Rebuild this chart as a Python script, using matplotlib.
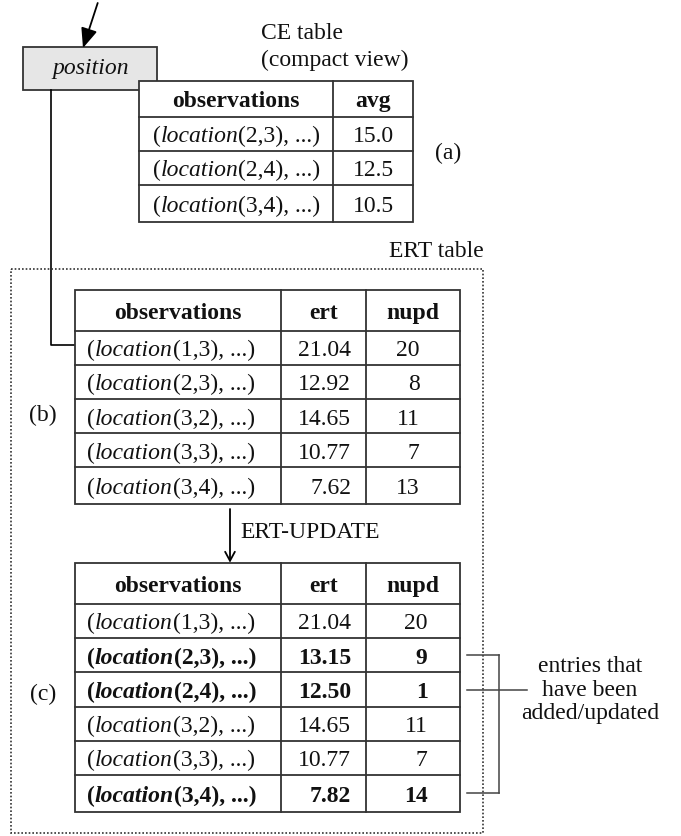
import matplotlib
matplotlib.use("Agg")
import matplotlib.pyplot as plt
from matplotlib.patches import Rectangle

FONT = "Liberation Serif"
FS = 17
TXT = "#111111"
LINE = "#333333"

# ---------------- data ----------------
ce_headers = ["observations", "avg"]
ce_obs = ["(2,3)", "(2,4)", "(3,4)"]
ce_avg = ["15.0", "12.5", "10.5"]

ert_headers = ["observations", "ert", "nupd"]
b_obs = ["(1,3)", "(2,3)", "(3,2)", "(3,3)", "(3,4)"]
b_ert = ["21.04", "12.92", "14.65", "10.77", "7.62"]
b_nupd = ["20", "8", "11", "7", "13"]

c_obs = ["(1,3)", "(2,3)", "(2,4)", "(3,2)", "(3,3)", "(3,4)"]
c_ert = ["21.04", "13.15", "12.50", "14.65", "10.77", "7.82"]
c_nupd = ["20", "9", "1", "11", "7", "14"]
c_updated = [False, True, True, False, False, True]

# ---------------- layout (pixel space) ----------------
fig = plt.figure(figsize=(6.81, 8.36), dpi=100)
ax = fig.add_axes([0, 0, 1, 1])
ax.set_xlim(0, 681)
ax.set_ylim(836, 0)
ax.axis("off")
renderer = fig.canvas.get_renderer()
EM = FS * 100 / 72.0


def txt(x, y, s, ha="center", weight="normal", style="normal", va="baseline", **kw):
    return ax.text(x, y, s, fontsize=FS, family=FONT, ha=ha, va=va,
                   weight=weight, style=style, color=TXT, **kw)


def base(yc):
    return yc + 0.35 * EM


def obs_text(x, yc, coord, bold=False):
    w = "bold" if bold else "normal"
    parts = [("(", "normal"), ("location", "italic"), (coord + ", ...)", "normal")]
    for s, st in parts:
        t = txt(x, base(yc), s, ha="left", weight=w, style=st)
        x += t.get_window_extent(renderer).width


def grid(xs, ys):
    ax.add_patch(Rectangle((xs[0], ys[0]), xs[-1] - xs[0], ys[-1] - ys[0],
                           facecolor="white", edgecolor=LINE, lw=1.3, zorder=2))
    for y in ys[1:-1]:
        ax.plot([xs[0], xs[-1]], [y, y], color=LINE, lw=1.3, zorder=3)
    for x in xs[1:-1]:
        ax.plot([x, x], [ys[0], ys[-1]], color=LINE, lw=1.3, zorder=3)


# arrow into position box
ax.annotate("", xy=(83, 48), xytext=(97.7, 3),
            arrowprops=dict(arrowstyle="-|>,head_length=1.2,head_width=0.5",
                            color="black", lw=1.3, shrinkA=0, shrinkB=0))

# position box
ax.add_patch(Rectangle((23.3, 47.3), 134, 42.7, facecolor="#e6e6e6",
                       edgecolor=LINE, lw=1.3, zorder=1))
txt(91, 68.5, "position", style="italic", va="center")

# connector from position box to ERT table
ax.plot([50.7, 50.7, 75], [90, 345, 345], color="black", lw=1.2, zorder=1)

# CE table
txt(261, 33.5, "CE table", ha="left", va="center")
txt(261, 60.5, "(compact view)", ha="left", va="center")
ce_x = [138.5, 333, 412.7]
ce_y = [81, 117, 151, 185, 221.7]
grid(ce_x, ce_y)
txt((ce_x[0] + ce_x[1]) / 2, base((ce_y[0] + ce_y[1]) / 2), ce_headers[0], weight="bold")
txt((ce_x[1] + ce_x[2]) / 2, base((ce_y[0] + ce_y[1]) / 2), ce_headers[1], weight="bold")
for i, (o, v) in enumerate(zip(ce_obs, ce_avg)):
    yc = (ce_y[i + 1] + ce_y[i + 2]) / 2
    obs_text(ce_x[0] + 14, yc, o)
    txt((ce_x[1] + ce_x[2]) / 2 + 1, base(yc), v)
txt(448, 153, "(a)", va="center")

# ERT dotted frame
txt(484, 251.5, "ERT table", ha="right", va="center")
ax.add_patch(Rectangle((11, 269.3), 471.7, 564, fill=False, edgecolor="#333333",
                       lw=1.2, linestyle=(0, (1, 1.2)), zorder=1))

tx = [75, 281, 366, 459.5]


def ert_table(ys, obs, ert, nupd, bold, nupd_right):
    grid(tx, ys)
    hc = (ys[0] + ys[1]) / 2
    txt((tx[0] + tx[1]) / 2, base(hc), ert_headers[0], weight="bold")
    txt((tx[1] + tx[2]) / 2, base(hc), ert_headers[1], weight="bold")
    txt((tx[2] + tx[3]) / 2, base(hc), ert_headers[2], weight="bold")
    for i in range(len(obs)):
        yc = (ys[i + 1] + ys[i + 2]) / 2
        w = "bold" if bold[i] else "normal"
        obs_text(tx[0] + 12, yc, obs[i], bold=bold[i])
        txt(351, base(yc), ert[i], ha="right", weight=w)
        txt(nupd_right, base(yc), nupd[i], ha="right", weight=w)


b_y = [290, 331, 365, 399.3, 433.3, 467.3, 503.5]
ert_table(b_y, b_obs, b_ert, b_nupd, [False] * len(b_obs), 419.5)
txt(43, 415, "(b)", va="center")

# ERT-UPDATE arrow
ax.annotate("", xy=(230, 562.7), xytext=(230, 509),
            arrowprops=dict(arrowstyle="->,head_length=0.65,head_width=0.35",
                            color="black", lw=1.3, shrinkA=0, shrinkB=0))
txt(240, 533, "ERT-UPDATE", ha="left", va="center")

c_y = [562.7, 604, 638.3, 672.3, 706.7, 741, 775.3, 811.5]
ert_table(c_y, c_obs, c_ert, c_nupd, c_updated, 427.5)
txt(43, 694, "(c)", va="center")

# bracket for updated entries
upd_y = [(c_y[i + 1] + c_y[i + 2]) / 2 for i, u in enumerate(c_updated) if u]
for k, y in enumerate(upd_y):
    x_end = 527.3 if k == 1 else 499.3
    ax.plot([467.3, x_end], [y, y], color="#444444", lw=1.1, zorder=4)
ax.plot([499.3, 499.3], [upd_y[0], upd_y[-1]], color="#444444", lw=1.1, zorder=4)
ax.text(590, 690, "entries that\nhave been\nadded/updated", fontsize=FS,
        family=FONT, ha="center", va="center", multialignment="center",
        linespacing=1.15, color=TXT)

fig.savefig("out.png", dpi=100)
